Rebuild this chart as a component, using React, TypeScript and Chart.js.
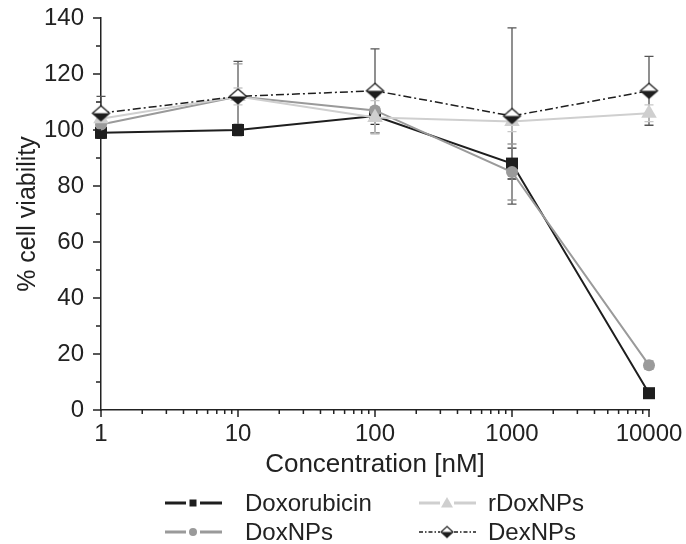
import { useEffect, useRef } from 'react';
import { Chart, registerables } from 'chart.js';
Chart.register(...registerables);

const concentrations = [1, 10, 100, 1000, 10000];
const xTickValues = [1, 10, 100, 1000, 10000];
const xTickLabels = ['1', '10', '100', '1000', '10000'];
const yTickValues = [0, 20, 40, 60, 80, 100, 120, 140];
const yMinorValues = [10, 30, 50, 70, 90, 110, 130];

const seriesNames = ['Doxorubicin', 'DoxNPs', 'rDoxNPs', 'DexNPs'];
const doxorubicin = [99, 100, 105, 88, 6];
const doxorubicinErr = [2, 2, 3, 5.5, 1];
const doxNPs = [102, 112, 107, 85, 16];
const doxNPsErr = [3, 11.6, 8, 10, 1.5];
const rDoxNPs = [104, 112, 104.5, 103, 106];
const rDoxNPsErr = [3, 3, 6, 3.6, 3];
const dexNPs = [106, 112, 114, 105, 114];
const dexNPsErr = [6, 12.5, 15, 31.5, 12.3];

const FONT = '"Liberation Sans", Arial, Helvetica, sans-serif';
const TEXT = '#222';

function makeDiamond(w: number, h: number, lw: number) {
  const c = document.createElement('canvas');
  c.width = w + 4;
  c.height = h + 4;
  const ctx = c.getContext('2d')!;
  const cx = c.width / 2, cy = c.height / 2;
  ctx.beginPath();
  ctx.moveTo(cx, cy - h / 2);
  ctx.lineTo(cx + w / 2, cy);
  ctx.lineTo(cx, cy + h / 2);
  ctx.lineTo(cx - w / 2, cy);
  ctx.closePath();
  ctx.fillStyle = '#fff';
  ctx.fill();
  ctx.beginPath();
  ctx.moveTo(cx - w / 2, cy);
  ctx.lineTo(cx + w / 2, cy);
  ctx.lineTo(cx, cy + h / 2);
  ctx.closePath();
  ctx.fillStyle = '#1e1e1e';
  ctx.fill();
  ctx.beginPath();
  ctx.moveTo(cx, cy - h / 2);
  ctx.lineTo(cx + w / 2, cy);
  ctx.lineTo(cx, cy + h / 2);
  ctx.lineTo(cx - w / 2, cy);
  ctx.closePath();
  ctx.strokeStyle = '#1e1e1e';
  ctx.lineWidth = lw;
  ctx.stroke();
  return c;
}

export default function App() {
  const ref = useRef<HTMLCanvasElement>(null);
  useEffect(() => {
    document.body.style.margin = '0';
    const diamond = makeDiamond(17, 15, 1.3);
    const diamondSmall = makeDiamond(12, 11, 1.1);

    const values = [doxorubicin, doxNPs, rDoxNPs, dexNPs];
    const errors = [doxorubicinErr, doxNPsErr, rDoxNPsErr, dexNPsErr];
    const colors = ['#1e1e1e', '#9a9a9a', '#cfcfcf', '#1e1e1e'];
    const errColors = ['#333', '#999', '#c8c8c8', '#555'];
    const styles: any[] = ['rect', 'circle', 'triangle', diamond];
    const radii = [8.5, 6, 9, 8];
    const orders = [3, 2, 1, 0];

    const datasets = values.map((vals, i) => ({
      label: seriesNames[i],
      data: vals.map((v, j) => ({ x: concentrations[j], y: v })),
      borderColor: colors[i],
      backgroundColor: colors[i],
      pointBackgroundColor: colors[i],
      pointBorderColor: colors[i],
      pointBorderWidth: 0,
      borderWidth: i === 3 ? 1.5 : 2,
      borderDash: i === 3 ? [8, 3, 2, 3] : [],
      pointStyle: styles[i],
      pointRadius: radii[i],
      tension: 0,
      order: orders[i],
      clip: false as any,
    }));

    const errorBars = {
      id: 'errorBars',
      beforeDatasetsDraw(chart: any) {
        const ctx = chart.ctx;
        const xs = chart.scales.x, ys = chart.scales.y;
        ctx.save();
        [3, 0, 1, 2].forEach((i) => {
          ctx.strokeStyle = errColors[i];
          ctx.lineWidth = 1.3;
          values[i].forEach((v, j) => {
            const e = errors[i][j];
            const x = xs.getPixelForValue(concentrations[j]);
            const yt = ys.getPixelForValue(v + e);
            const yb = ys.getPixelForValue(v - e);
            ctx.beginPath();
            ctx.moveTo(x, yt); ctx.lineTo(x, yb);
            ctx.moveTo(x - 4.5, yt); ctx.lineTo(x + 4.5, yt);
            ctx.moveTo(x - 4.5, yb); ctx.lineTo(x + 4.5, yb);
            ctx.stroke();
          });
        });
        ctx.restore();
      },
    };

    const axisTicks = {
      id: 'axisTicks',
      afterDraw(chart: any) {
        const ctx = chart.ctx;
        const xs = chart.scales.x, ys = chart.scales.y;
        const area = chart.chartArea;
        ctx.save();
        ctx.strokeStyle = '#222';
        ctx.lineWidth = 1.5;
        ctx.beginPath();
        yTickValues.forEach((v) => {
          const y = ys.getPixelForValue(v);
          ctx.moveTo(area.left - 8, y); ctx.lineTo(area.left, y);
        });
        yMinorValues.forEach((v) => {
          const y = ys.getPixelForValue(v);
          ctx.moveTo(area.left - 5, y); ctx.lineTo(area.left, y);
        });
        xTickValues.forEach((v) => {
          const x = xs.getPixelForValue(v);
          ctx.moveTo(x, area.bottom); ctx.lineTo(x, area.bottom + 7);
        });
        for (let d = 1; d < 10000; d *= 10) {
          for (let m = 2; m <= 9; m++) {
            const x = xs.getPixelForValue(d * m);
            ctx.moveTo(x, area.bottom); ctx.lineTo(x, area.bottom + 4);
          }
        }
        ctx.stroke();
        ctx.restore();
      },
    };

    const legendRows = [
      { i: 0, col: 0, row: 0 },
      { i: 2, col: 1, row: 0 },
      { i: 1, col: 0, row: 1 },
      { i: 3, col: 1, row: 1 },
    ];
    const customLegend = {
      id: 'customLegend',
      afterDraw(chart: any) {
        const ctx = chart.ctx;
        ctx.save();
        legendRows.forEach(({ i, col, row }) => {
          const y = row === 0 ? 503 : 532;
          const x0 = col === 0 ? 165 : 419;
          const mx = x0 + 28;
          ctx.strokeStyle = colors[i];
          ctx.fillStyle = colors[i];
          ctx.lineWidth = i === 3 ? 1.5 : 3;
          ctx.setLineDash(i === 3 ? [4, 2, 1.5, 2] : []);
          ctx.beginPath();
          ctx.moveTo(x0, y); ctx.lineTo(mx - 7, y);
          ctx.moveTo(mx + 7, y); ctx.lineTo(x0 + 57, y);
          ctx.stroke();
          ctx.setLineDash([]);
          if (i === 0) {
            ctx.fillRect(mx - 3.5, y - 3.5, 7, 7);
          } else if (i === 1) {
            ctx.beginPath(); ctx.arc(mx, y, 4, 0, Math.PI * 2); ctx.fill();
          } else if (i === 2) {
            ctx.beginPath();
            ctx.moveTo(mx, y - 6); ctx.lineTo(mx + 6, y + 4.5); ctx.lineTo(mx - 6, y + 4.5);
            ctx.closePath(); ctx.fill();
          } else {
            ctx.drawImage(diamondSmall, mx - diamondSmall.width / 2, y - diamondSmall.height / 2);
          }
          ctx.fillStyle = TEXT;
          ctx.font = `24px ${FONT}`;
          ctx.textBaseline = 'middle';
          ctx.textAlign = 'left';
          ctx.fillText(seriesNames[i], col === 0 ? 245 : 488, y + 1);
        });
        ctx.restore();
      },
    };

    const chart = new Chart(ref.current!, {
      type: 'line',
      data: { datasets },
      options: {
        animation: false,
        responsive: false,
        layout: { padding: { left: 0, right: 37, top: 18, bottom: 64 } },
        plugins: { legend: { display: false }, tooltip: { enabled: false } },
        scales: {
          x: {
            type: 'logarithmic',
            min: 1,
            max: 10000,
            afterBuildTicks: (s: any) => { s.ticks = xTickValues.map((v) => ({ value: v })); },
            afterFit: (s: any) => { s.height = 70; s.paddingLeft = 0; s.paddingRight = 0; },
            ticks: {
              autoSkip: false,
              maxRotation: 0,
              padding: 10,
              color: TEXT,
              font: { family: FONT, size: 24 },
              callback: (v: any) => { const k = xTickValues.indexOf(Number(v)); return k >= 0 ? xTickLabels[k] : ''; },
            },
            grid: { display: false, drawTicks: false },
            border: { display: true, color: '#222', width: 1.5 },
            title: { display: true, text: 'Concentration [nM]', color: TEXT, font: { family: FONT, size: 26 }, padding: { top: 0, bottom: 0 } },
          },
          y: {
            type: 'linear',
            min: 0,
            max: 140,
            afterBuildTicks: (s: any) => { s.ticks = yTickValues.map((v) => ({ value: v })); },
            afterFit: (s: any) => { s.width = 101; s.paddingTop = 0; s.paddingBottom = 0; },
            ticks: { padding: 17, color: TEXT, font: { family: FONT, size: 24 } },
            grid: { display: false, drawTicks: false },
            border: { display: true, color: '#222', width: 1.5 },
            title: { display: true, text: '% cell viability', color: TEXT, font: { family: FONT, size: 25 }, padding: { top: 13, bottom: 0 } },
          },
        },
      },
      plugins: [errorBars, axisTicks, customLegend],
    });
    return () => chart.destroy();
  }, []);
  return (
    <div style={{ width: 686, height: 544 }}>
      <canvas ref={ref} width={686} height={544} style={{ width: 686, height: 544, display: 'block' }} />
    </div>
  );
}
